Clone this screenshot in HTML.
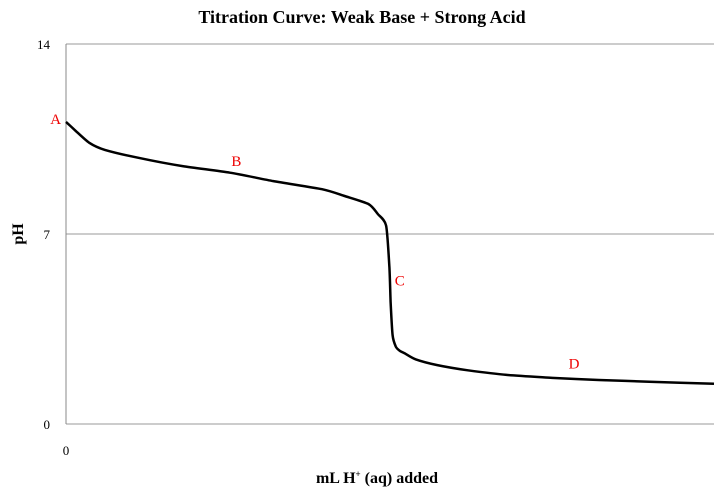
<!DOCTYPE html>
<html><head><meta charset="utf-8"><style>
body{margin:0;background:#fff;}
svg{display:block;font-family:"Liberation Serif",serif;}
</style></head><body>
<svg width="724" height="492">
<text x="362" y="23" text-anchor="middle" font-size="18" font-weight="bold">Titration Curve:  Weak Base + Strong Acid</text>
<g id="grid"></g>
<line x1="66" y1="44" x2="66" y2="424" stroke="#888" stroke-width="1"/>
<g id="yt"></g>
<text x="66" y="455" text-anchor="middle" font-size="13">0</text>
<text x="377" y="483" text-anchor="middle" font-size="16" font-weight="bold">mL H<tspan font-size="9" dy="-6">+</tspan><tspan dy="6"> (aq) added</tspan></text>
<text transform="translate(23,234) rotate(-90)" text-anchor="middle" font-size="16" font-weight="bold">pH</text>
<path id="curve" fill="none" stroke="#000" stroke-width="2.5" stroke-linejoin="round"/>
<g id="labels" fill="#e00" font-size="15"></g>
</svg>
<script>
const xVals=[0,1.5,3.6,6,11.1,18,25.3,32,39.5,43,46.7,48.1,49.4,49.9,50.1,50.4,50.9,51.5,52.3,54,57.3,62,68.0,75,82.2,90,100];
const phVals=[11.13,10.8,10.36,10.1,9.81,9.5,9.26,8.95,8.65,8.4,8.10,7.74,7.31,5.78,4.5,3.27,2.85,2.7,2.60,2.38,2.17,1.98,1.81,1.7,1.62,1.56,1.48];
const yTicks=[0,7,14];
const pointLabels=["A","B","C","D"];
const labelX=[-1.6,26.3,51.5,78.4];
const labelPh=[11.05,9.5,5.1,2.05];
const X=v=>66+v/100*648, Y=v=>424-v/14*380;
const ns="http://www.w3.org/2000/svg";
const grid=document.getElementById('grid'),yt=document.getElementById('yt');
yTicks.forEach(t=>{
 const l=document.createElementNS(ns,'line');
 l.setAttribute('x1',66);l.setAttribute('x2',714);l.setAttribute('y1',Y(t));l.setAttribute('y2',Y(t));
 l.setAttribute('stroke','#999');
 
 
 grid.appendChild(l);
 const tx=document.createElementNS(ns,'text');
 tx.setAttribute('x',50);tx.setAttribute('y',Y(t)+5);tx.setAttribute('text-anchor','end');tx.setAttribute('font-size','13');
 tx.textContent=t;
 
 
 yt.appendChild(tx);
});
const P=xVals.map((x,i)=>[X(x),Y(phVals[i])]);
let d='M'+P[0][0].toFixed(1)+','+P[0][1].toFixed(1);
const k=0.12;
for(let i=0;i<P.length-1;i++){
 const p0=P[Math.max(0,i-1)],p1=P[i],p2=P[i+1],p3=P[Math.min(P.length-1,i+2)];
 const c1=[p1[0]+(p2[0]-p0[0])*k,p1[1]+(p2[1]-p0[1])*k];
 const c2=[p2[0]-(p3[0]-p1[0])*k,p2[1]-(p3[1]-p1[1])*k];
 d+='C'+c1.map(v=>v.toFixed(1))+' '+c2.map(v=>v.toFixed(1))+' '+p2.map(v=>v.toFixed(1));
}
document.getElementById('curve').setAttribute('d',d);
const lg=document.getElementById('labels');
pointLabels.forEach((s,i)=>{
 const tx=document.createElementNS(ns,'text');
 tx.setAttribute('x',X(labelX[i]));tx.setAttribute('y',Y(labelPh[i]));tx.setAttribute('text-anchor','middle');
 tx.textContent=s;
 
 
 lg.appendChild(tx);
});
</script>
</body></html>
